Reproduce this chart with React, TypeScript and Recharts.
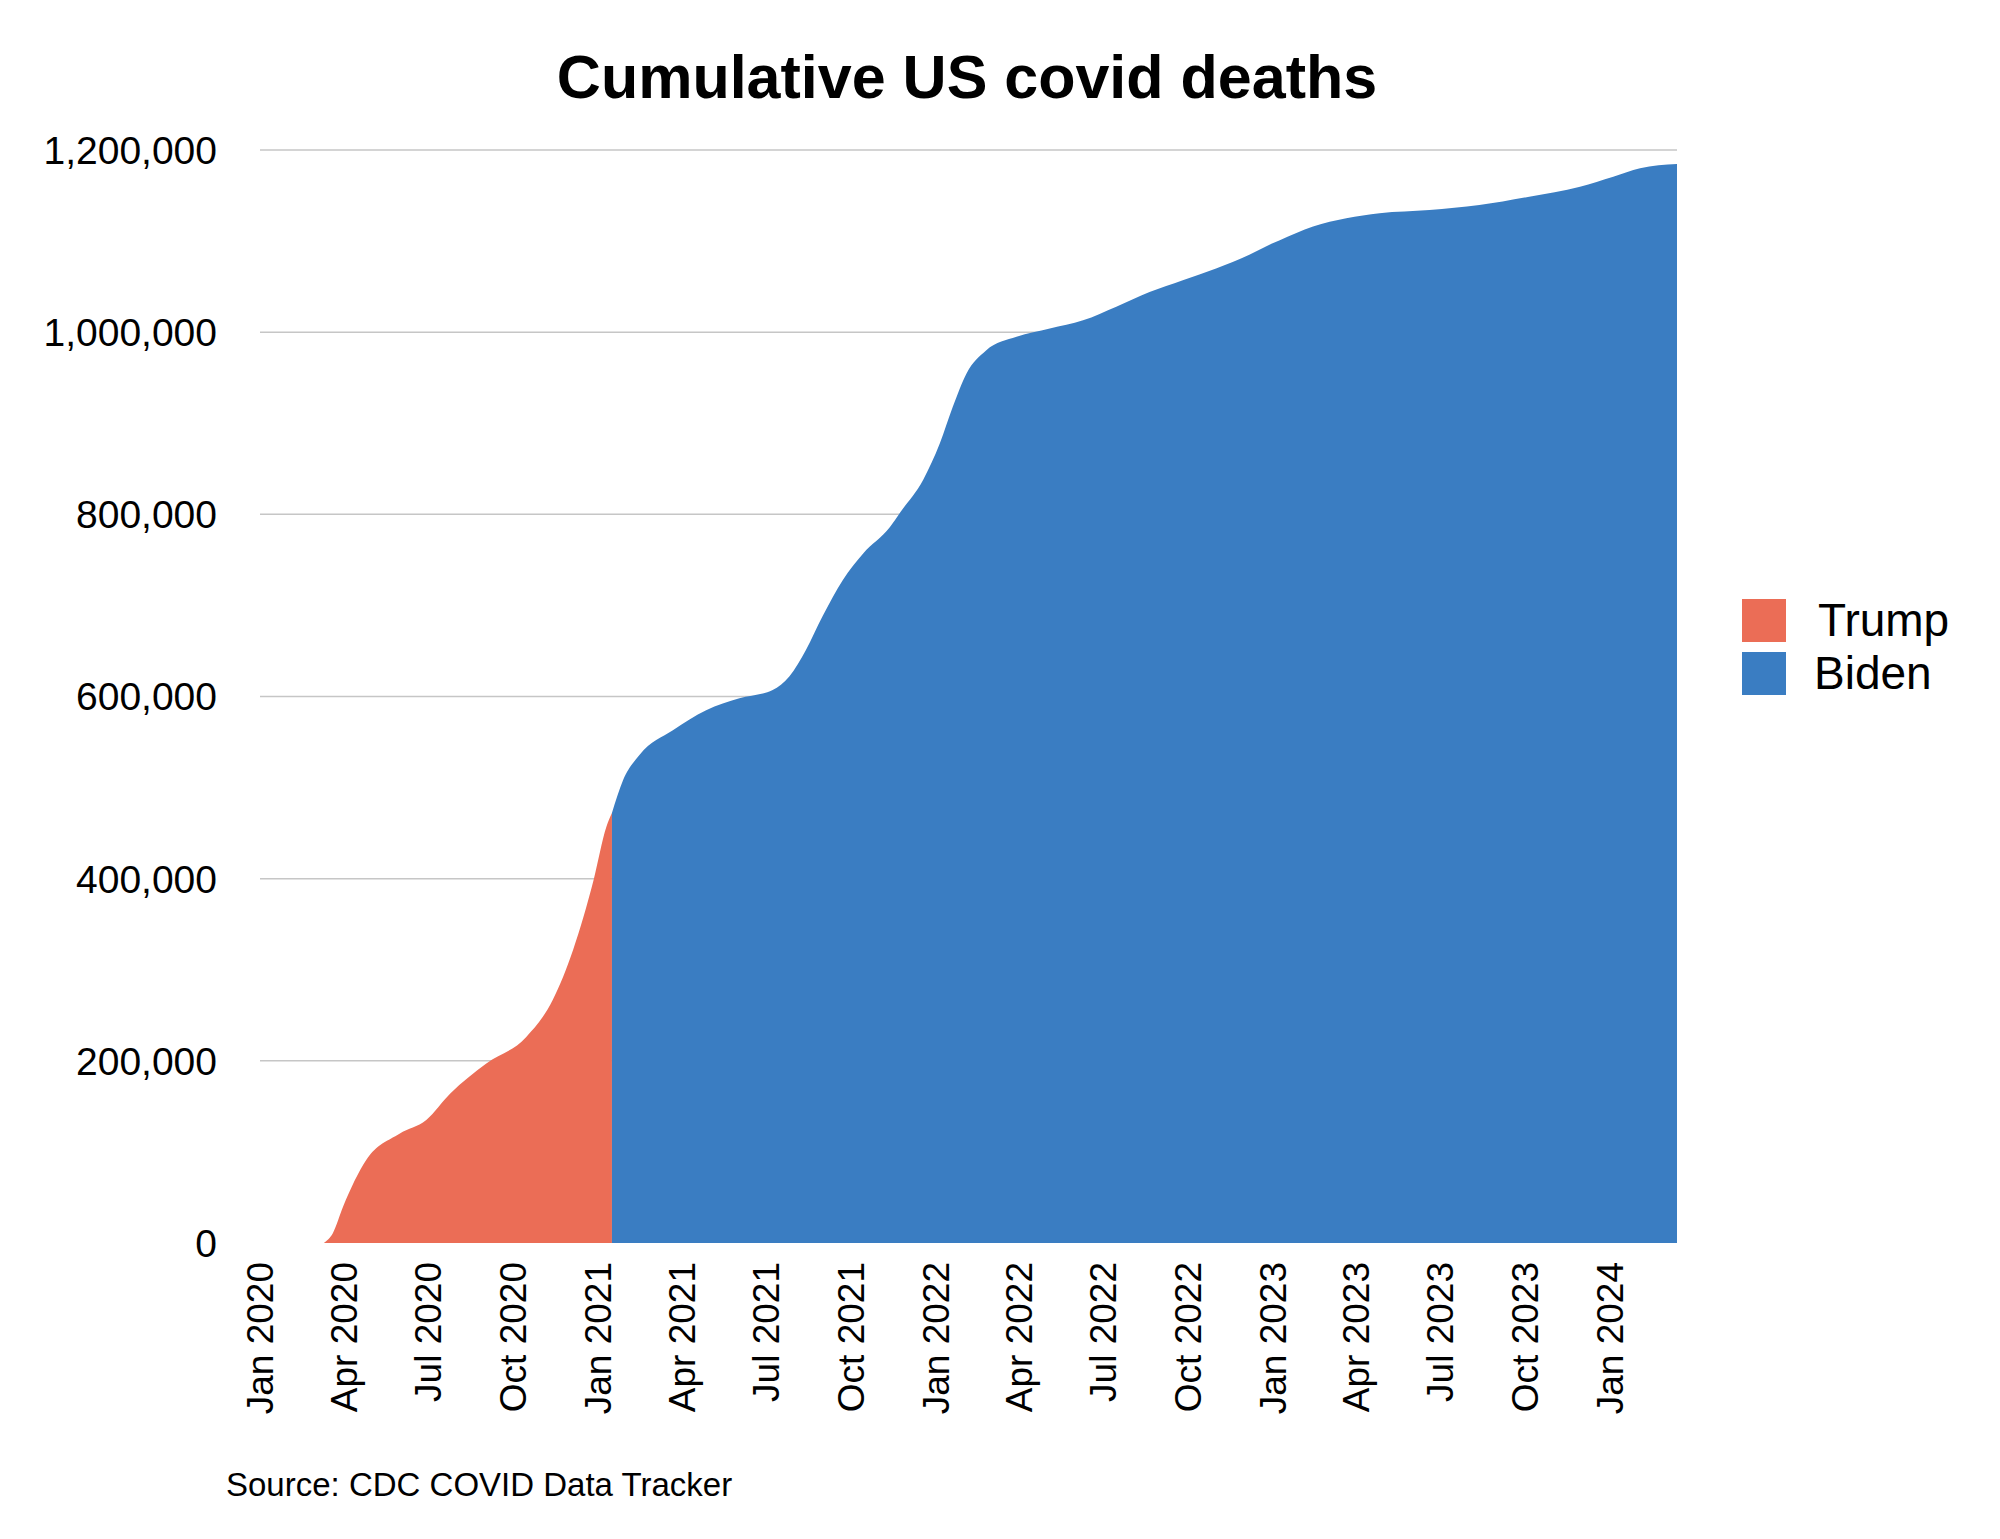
import React from 'react';
import { AreaChart, Area, XAxis, YAxis, CartesianGrid } from 'recharts';

// cumulative deaths
const trumpDates = [
  '2020-03-10', '2020-03-20', '2020-03-31', '2020-04-25', '2020-05-31', '2020-06-29', '2020-07-25',
  '2020-09-02', '2020-10-15', '2020-11-13', '2020-12-05', '2020-12-27', '2021-01-10', '2021-01-16',
];
const trumpDeaths = [0, 11000, 40000, 91000, 120000, 135000, 164000, 197000, 226000, 267000, 322000, 398000, 457000, 472000];

const bidenDates = [
  '2021-01-16', '2021-01-28', '2021-02-15', '2021-03-23', '2021-04-28', '2021-06-03', '2021-07-09',
  '2021-07-27', '2021-08-14', '2021-09-01', '2021-09-23', '2021-10-15', '2021-11-13', '2021-11-24',
  '2021-12-19', '2022-01-06', '2022-01-20', '2022-02-04', '2022-02-25', '2022-03-30', '2022-05-05',
  '2022-06-10', '2022-07-16', '2022-08-21', '2022-09-26', '2022-11-01', '2022-12-07', '2022-12-31',
  '2023-01-09', '2023-02-14', '2023-03-22', '2023-04-27', '2023-06-20', '2023-08-13', '2023-10-06',
  '2023-11-30', '2024-01-05', '2024-02-03', '2024-03-14',
];
const bidenDeaths = [
  472000, 508000, 536000, 563000, 585000, 598000, 607000, 622000, 651000, 688000, 728000, 757000,
  786000, 802000, 838000, 878000, 918000, 955000, 980000, 995000, 1004000, 1013000, 1028000, 1044000,
  1057000, 1070000, 1085000, 1097000, 1101000, 1116000, 1125000, 1130500, 1134000, 1139600, 1148700,
  1159700, 1170700, 1180000, 1184600,
];

const xTickDates = [
  '2020-01-01', '2020-04-01', '2020-07-01', '2020-10-01', '2021-01-01', '2021-04-01', '2021-07-01',
  '2021-10-01', '2022-01-01', '2022-04-01', '2022-07-01', '2022-10-01', '2023-01-01', '2023-04-01',
  '2023-07-01', '2023-10-01', '2024-01-01',
];
const xTickLabels = [
  'Jan 2020', 'Apr 2020', 'Jul 2020', 'Oct 2020', 'Jan 2021', 'Apr 2021', 'Jul 2021', 'Oct 2021',
  'Jan 2022', 'Apr 2022', 'Jul 2022', 'Oct 2022', 'Jan 2023', 'Apr 2023', 'Jul 2023', 'Oct 2023', 'Jan 2024',
];
const yTicks = [0, 200000, 400000, 600000, 800000, 1000000, 1200000];

const seriesNames = ['Trump', 'Biden'];
const seriesColors = ['#EB6D56', '#3A7DC2'];

const FONT = '"Liberation Sans", Arial, Helvetica, sans-serif';

const day = (s: string) => Math.round((Date.parse(s) - Date.parse('2020-01-01')) / 86400000);

const rows = new Map<number, any>();
trumpDates.forEach((d, i) => {
  const t = day(d);
  rows.set(t, { ...(rows.get(t) || { t }), trump: trumpDeaths[i] });
});
bidenDates.forEach((d, i) => {
  const t = day(d);
  rows.set(t, { ...(rows.get(t) || { t }), biden: bidenDeaths[i] });
});
const data = [...rows.values()].sort((a, b) => a.t - b.t);

const xTicks = xTickDates.map(day);
const labelFor = (v: number) => xTickLabels[xTicks.indexOf(v)] ?? '';
const endDay = day(bidenDates[bidenDates.length - 1]);

const XTick = ({ x, y, payload }: any) => (
  <text
    x={x}
    y={y}
    transform={`rotate(-90, ${x}, ${y})`}
    textAnchor="end"
    dy="0.36em"
    fontSize={37}
    fontFamily={FONT}
    fill="#000"
  >
    {labelFor(payload.value)}
  </text>
);

export default function App() {
  return (
    <div style={{ position: 'absolute', left: 0, top: 0, width: 2000, height: 1539, background: '#fff' }}>
      <AreaChart width={2000} height={1539} data={data} margin={{ top: 150, right: 323, bottom: 0, left: 0 }}>
        <CartesianGrid
          vertical={false}
          horizontalValues={yTicks.filter((v) => v > 0)}
          stroke="#c6c6c6"
          strokeWidth={1.5}
        />
        <XAxis
          type="number"
          dataKey="t"
          domain={[0, endDay]}
          ticks={xTicks}
          interval={0}
          height={296}
          axisLine={false}
          tickLine={false}
          tickSize={6}
          tickMargin={13}
          tick={<XTick />}
        />
        <YAxis
          type="number"
          domain={[0, 1200000]}
          ticks={yTicks}
          interval={0}
          width={260}
          axisLine={false}
          tickLine={false}
          tickSize={6}
          tickMargin={37}
          tickFormatter={(v: number) => v.toLocaleString('en-US')}
          tick={{ fontSize: 39, fill: '#000', fontFamily: FONT }}
        />
        <Area
          type="monotone"
          dataKey="trump"
          name={seriesNames[0]}
          stroke="none"
          fill={seriesColors[0]}
          fillOpacity={1}
          dot={false}
          activeDot={false}
          isAnimationActive={false}
        />
        <Area
          type="monotone"
          dataKey="biden"
          name={seriesNames[1]}
          stroke="none"
          fill={seriesColors[1]}
          fillOpacity={1}
          dot={false}
          activeDot={false}
          isAnimationActive={false}
        />
      </AreaChart>

      <svg width={2000} height={1539} style={{ position: 'absolute', left: 0, top: 0, pointerEvents: 'none' }}>
        <text x={967} y={98} textAnchor="middle" fontSize={61} fontWeight="bold" fontFamily={FONT} fill="#000">
          Cumulative US covid deaths
        </text>
        <text x={226} y={1496} fontSize={33} fontFamily={FONT} fill="#000">
          Source: CDC COVID Data Tracker
        </text>
      </svg>

      <div style={{ position: 'absolute', left: 1742, top: 599, fontFamily: FONT }}>
        {seriesNames.map((name, i) => (
          <div key={name} style={{ display: 'flex', alignItems: 'center', height: 43, marginBottom: 10 }}>
            <div style={{ width: 44, height: 43, background: seriesColors[i] }} />
            <span style={{ fontSize: 46, lineHeight: '43px', marginLeft: i === 0 ? 32 : 28, color: '#000' }}>{name}</span>
          </div>
        ))}
      </div>
    </div>
  );
}
